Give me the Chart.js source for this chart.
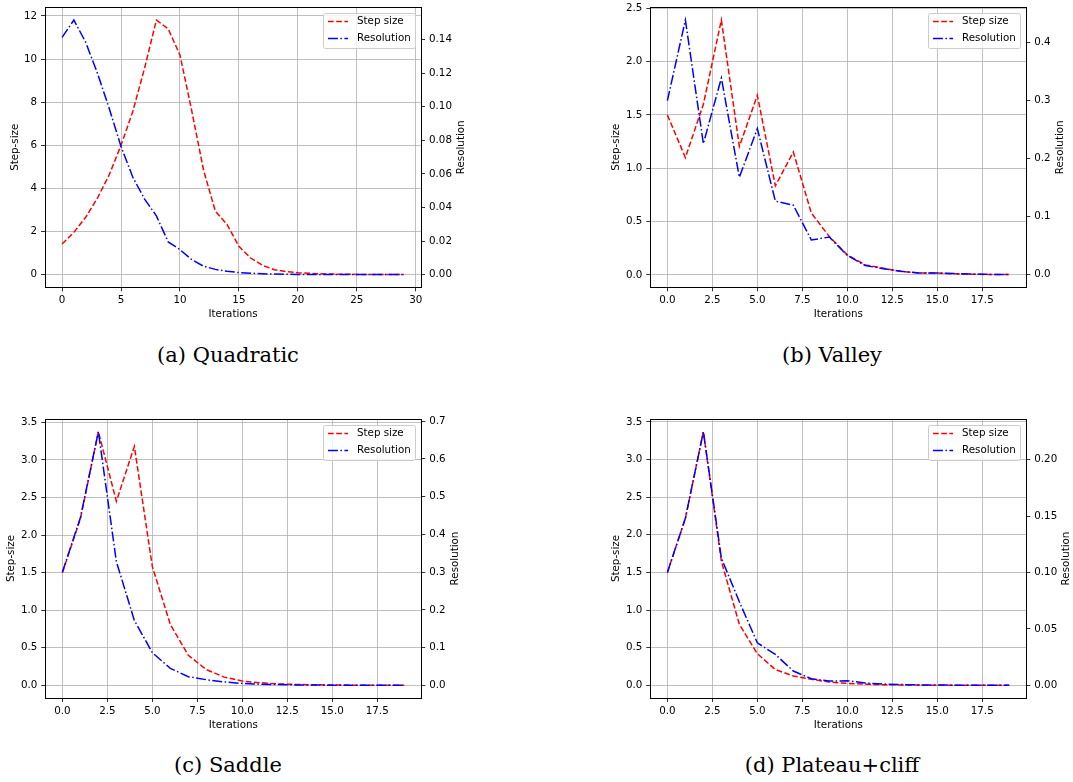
<!DOCTYPE html>
<html>
<head>
<meta charset="utf-8">
<script src="https://cdn.jsdelivr.net/npm/chart.js@4.4.1/dist/chart.umd.min.js"></script>
<style>
  body { margin: 0; background: #fff; width: 1073px; height: 782px; position: relative; overflow: hidden; }
  canvas { position: absolute; }
  .cap { position: absolute; width: 400px; text-align: center; font: 21px "DejaVu Serif", serif; line-height: 1; color: #000; white-space: nowrap; }
</style>
</head>
<body>
<canvas id="quad" width="480" height="330" style="left:0px;top:0px"></canvas>
<canvas id="valley" width="483" height="330" style="left:590px;top:0px"></canvas>
<canvas id="saddle" width="480" height="330" style="left:0px;top:411px"></canvas>
<canvas id="plateau" width="483" height="330" style="left:590px;top:411px"></canvas>
<div class="cap" style="left:28px;top:345px">(a) Quadratic</div>
<div class="cap" style="left:632px;top:345px">(b) Valley</div>
<div class="cap" style="left:28px;top:755px">(c) Saddle</div>
<div class="cap" style="left:632px;top:755px">(d) Plateau+cliff</div>
<script>
// iteration indices
const iters30 = Array.from({ length: 30 }, (_, i) => i);
const iters20 = Array.from({ length: 20 }, (_, i) => i);

// (a) quadratic
const quadStep = [1.42, 1.96, 2.66, 3.55, 4.63, 6.0, 7.57, 9.58, 11.81, 11.4, 10.19, 7.6, 4.85, 2.95, 2.32,
  1.31, 0.77, 0.43, 0.23, 0.14, 0.09, 0.06, 0.04, 0.025, 0.015, 0.01, 0.006, 0.004, 0.003, 0.002];
const quadRes = [0.1414, 0.1517, 0.1385, 0.120, 0.099, 0.0763, 0.058, 0.045, 0.035, 0.0195, 0.0149, 0.0089, 0.005, 0.0031, 0.002,
  0.0012, 0.0008, 0.0005, 0.0003, 0.0002, 0.0001, 0.0001, 0.00005, 0.00004, 0.00003, 0.00002, 0.00001, 0.00001, 0.00001, 0.00001];

// (b) valley
const valleyStep = [1.5, 1.1, 1.6, 2.39, 1.205, 1.684, 0.836, 1.152, 0.58, 0.36,
  0.188, 0.094, 0.062, 0.032, 0.018, 0.017, 0.01, 0.006, 0.004, 0.003];
const valleyRes = [0.30, 0.439, 0.226, 0.339, 0.168, 0.252, 0.127, 0.120, 0.060, 0.065,
  0.0334, 0.016, 0.0105, 0.006, 0.003, 0.003, 0.002, 0.0012, 0.0007, 0.0004];

// (c) saddle
const saddleStep = [1.5, 2.22, 3.376, 2.45, 3.18, 1.58, 0.81, 0.40, 0.21, 0.11,
  0.057, 0.035, 0.02, 0.012, 0.008, 0.005, 0.003, 0.002, 0.0012, 0.0008];
const saddleRes = [0.30, 0.444, 0.672, 0.328, 0.172, 0.0865, 0.045, 0.023, 0.015, 0.009,
  0.005, 0.003, 0.002, 0.0012, 0.0008, 0.0005, 0.0003, 0.0002, 0.0001, 0.0001];

// (d) plateau + cliff
const plateauStep = [1.5, 2.22, 3.37, 1.65, 0.81, 0.42, 0.21, 0.124, 0.08, 0.044,
  0.026, 0.015, 0.009, 0.005, 0.003, 0.002, 0.0012, 0.0008, 0.0005, 0.0003];
const plateauRes = [0.10, 0.148, 0.2247, 0.1127, 0.074, 0.0377, 0.0274, 0.0127, 0.0059, 0.0038,
  0.0041, 0.0021, 0.0012, 0.0007, 0.0004, 0.0003, 0.0002, 0.0001, 0.0001, 0.00005];

const FONT = '"DejaVu Sans", sans-serif';
const FONT_SIZE = 10.3;
Chart.defaults.font.family = FONT;
Chart.defaults.font.size = FONT_SIZE;
Chart.defaults.color = '#000';

const RED_DASH = [5.7, 2.5];
const BLUE_DASHDOT = [9.9, 2.5, 1.5, 2.5];

// 5% padding on both ends of the data range
function withMargin(values) {
  const lo = Math.min(...values), hi = Math.max(...values);
  const m = (hi - lo) * 0.05;
  return { min: lo - m, max: hi + m };
}

// box around the plot area
const framePlugin = {
  id: 'frame',
  afterDatasetsDraw(chart) {
    const { ctx, chartArea: a } = chart;
    ctx.save();
    ctx.strokeStyle = '#000';
    ctx.lineWidth = 1;
    ctx.strokeRect(Math.round(a.left) + 0.5, Math.round(a.top) + 0.5,
      Math.round(a.right) - Math.round(a.left), Math.round(a.bottom) - Math.round(a.top));
    ctx.restore();
  }
};

// legend box in the upper right corner of the plot
const boxLegend = {
  id: 'boxLegend',
  afterDraw(chart) {
    const { ctx, chartArea: a } = chart;
    const w = 92, h = 35;
    const x0 = Math.round(a.right - 6 - w), y0 = Math.round(a.top + 6);
    ctx.save();
    ctx.beginPath();
    ctx.roundRect(x0 + 0.5, y0 + 0.5, w, h, 2);
    ctx.fillStyle = 'rgba(255,255,255,0.8)';
    ctx.fill();
    ctx.strokeStyle = '#cccccc';
    ctx.lineWidth = 1;
    ctx.stroke();
    ctx.font = FONT_SIZE + 'px ' + FONT;
    ctx.textBaseline = 'middle';
    chart.data.datasets.forEach((ds, i) => {
      const y = y0 + 8.5 + i * 17;
      ctx.strokeStyle = ds.borderColor;
      ctx.lineWidth = ds.borderWidth;
      ctx.setLineDash(ds.borderDash);
      ctx.beginPath();
      ctx.moveTo(x0 + 5, y);
      ctx.lineTo(x0 + 25, y);
      ctx.stroke();
      ctx.setLineDash([]);
      ctx.fillStyle = '#000';
      ctx.fillText(ds.label, x0 + 34, y);
    });
    ctx.restore();
  }
};

// right-hand axis label, reading bottom to top
const rightTitle = {
  id: 'rightTitle',
  afterDraw(chart, args, opts) {
    const s = chart.scales.y1;
    const { ctx, chartArea: a } = chart;
    ctx.save();
    ctx.font = FONT_SIZE + 'px ' + FONT;
    const widest = Math.max(...s.ticks.map(t => ctx.measureText(t.label).width));
    ctx.translate(s.left + 8 + widest + 9.5, (a.top + a.bottom) / 2);
    ctx.rotate(-Math.PI / 2);
    ctx.textAlign = 'center';
    ctx.textBaseline = 'middle';
    ctx.fillStyle = '#000';
    ctx.fillText(opts.text, 0, 0);
    ctx.restore();
  }
};

const gridStyle = { color: '#b0b0b0', lineWidth: 0.8, tickColor: '#000', tickLength: 4, tickWidth: 0.8 };

function buildChart(p) {
  const xr = withMargin(p.iterations);
  const yr = withMargin(p.step);
  const y1r = withMargin(p.res);
  return new Chart(document.getElementById(p.id), {
    type: 'line',
    data: {
      labels: p.iterations,
      datasets: [
        { label: 'Step size', data: p.step, yAxisID: 'y', borderColor: '#ff0000', borderWidth: 1.5,
          borderDash: RED_DASH, pointRadius: 0, tension: 0, fill: false, order: 2 },
        { label: 'Resolution', data: p.res, yAxisID: 'y1', borderColor: '#0000ff', borderWidth: 1.5,
          borderDash: BLUE_DASHDOT, pointRadius: 0, tension: 0, fill: false, order: 1 }
      ]
    },
    options: {
      responsive: false,
      animation: false,
      events: [],
      layout: { padding: { top: p.padTop, left: 0, right: 0, bottom: 0 } },
      plugins: { legend: { display: false }, tooltip: { enabled: false }, rightTitle: { text: 'Resolution' } },
      scales: {
        x: {
          type: 'linear', min: xr.min, max: xr.max,
          ticks: { stepSize: p.xStep, includeBounds: false, autoSkip: false, maxRotation: 0, padding: 3,
            callback: v => v.toFixed(p.xDec) },
          grid: gridStyle,
          border: { display: false },
          title: { display: true, text: 'Iterations', padding: { top: 0, bottom: 9.5 } },
          afterFit: s => { s.height = p.xAxisH; s.paddingLeft = 0; s.paddingRight = 0; }
        },
        y: {
          position: 'left', min: yr.min, max: yr.max,
          ticks: { stepSize: p.yStep, includeBounds: false, autoSkip: false, padding: 4,
            callback: v => v.toFixed(p.yDec) },
          grid: gridStyle,
          border: { display: false },
          title: { display: true, text: 'Step-size', padding: { top: p.yTitlePad, bottom: 0 } },
          afterFit: s => { s.width = p.leftW; s.paddingTop = 0; s.paddingBottom = 0; }
        },
        y1: {
          position: 'right', min: y1r.min, max: y1r.max,
          ticks: { stepSize: p.y1Step, includeBounds: false, autoSkip: false, padding: 4,
            callback: v => v.toFixed(p.y1Dec) },
          grid: Object.assign({}, gridStyle, { drawOnChartArea: false }),
          border: { display: false },
          afterFit: s => { s.width = p.rightW; s.paddingTop = 0; s.paddingBottom = 0; }
        }
      }
    },
    plugins: [framePlugin, boxLegend, rightTitle]
  });
}

buildChart({ id: 'quad', iterations: iters30, step: quadStep, res: quadRes,
  padTop: 7.3, leftW: 45, rightW: 59, xAxisH: 42.7, yTitlePad: 8.8,
  xStep: 5, xDec: 0, yStep: 2, yDec: 0, y1Step: 0.02, y1Dec: 2 });

buildChart({ id: 'valley', iterations: iters20, step: valleyStep, res: valleyRes,
  padTop: 7.3, leftW: 60.3, rightW: 46.7, xAxisH: 42.7, yTitlePad: 20.5,
  xStep: 2.5, xDec: 1, yStep: 0.5, yDec: 1, y1Step: 0.1, y1Dec: 1 });

buildChart({ id: 'saddle', iterations: iters20, step: saddleStep, res: saddleRes,
  padTop: 8, leftW: 45.3, rightW: 58.7, xAxisH: 43, yTitlePad: 5.5,
  xStep: 2.5, xDec: 1, yStep: 0.5, yDec: 1, y1Step: 0.1, y1Dec: 1 });

buildChart({ id: 'plateau', iterations: iters20, step: plateauStep, res: plateauRes,
  padTop: 8, leftW: 60.3, rightW: 46.7, xAxisH: 43, yTitlePad: 20.5,
  xStep: 2.5, xDec: 1, yStep: 0.5, yDec: 1, y1Step: 0.05, y1Dec: 2 });
</script>
</body>
</html>
